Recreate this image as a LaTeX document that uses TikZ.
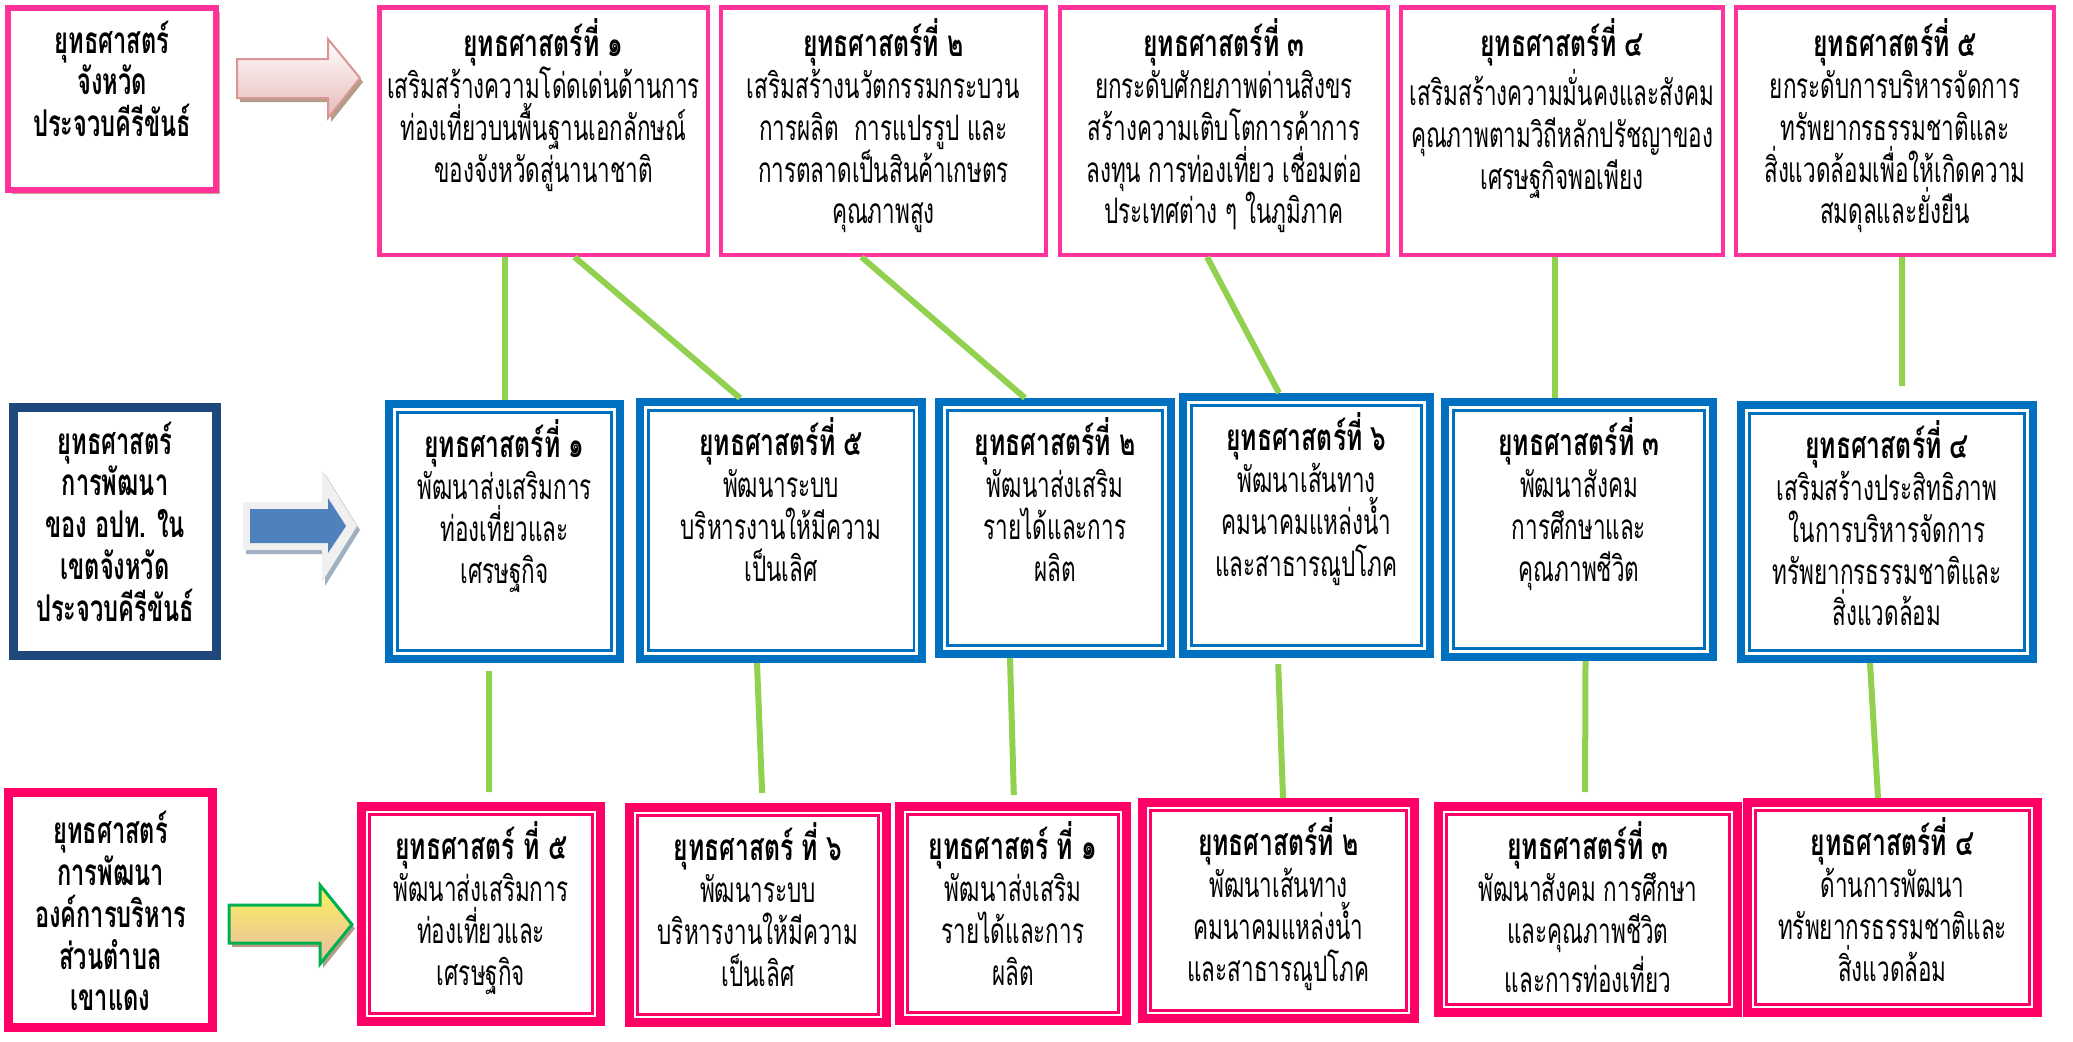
\documentclass[tikz,border=0pt]{standalone}
\usepackage{fontspec}
\newfontfamily\thaifont[Script=Thai, FakeStretch=0.64]{Loma}
\newfontfamily\thaititle[Script=Thai, FakeStretch=0.67]{Loma}
\usetikzlibrary{positioning, shadows}
\definecolor{provpink}{HTML}{FF3399}
\definecolor{labelblue}{HTML}{1F497D}
\definecolor{midblue}{HTML}{0070C0}
\definecolor{botred}{HTML}{FF0066}
\definecolor{linkgreen}{HTML}{92D050}
\definecolor{arrowpink}{HTML}{E6B9B8}
\definecolor{arrowpinkline}{HTML}{D99694}
\definecolor{arrowblue}{HTML}{4F81BD}
\definecolor{arrowglow}{HTML}{F0F0F0}
\definecolor{arrowyellow}{HTML}{FBF25A}
\definecolor{arrowpeach}{HTML}{E8BCA8}
\definecolor{arrowgreen}{HTML}{00B050}
\definecolor{shadowtan}{HTML}{C9A98C}
\definecolor{shadowgrey}{HTML}{9FB0C0}
\definecolor{shadowmauve}{HTML}{A99AA8}
\newcommand{\stitle}[1]{{\thaititle\bfseries\fontsize{10.5}{11.9}\selectfont #1}}

\begin{document}
\begin{tikzpicture}[
    provbox/.style={rectangle, draw=provpink, line width=0.045cm, fill=white, inner sep=0pt},
    labelbox/.style={rectangle, line width=0.09cm, fill=white, inner sep=0pt},
    midbox/.style={rectangle, draw=midblue, line width=0.08cm, fill=white, inner sep=0pt,
        path picture={\draw[midblue, line width=0.025cm]
            ([shift={(0.085cm,-0.085cm)}]path picture bounding box.north west) rectangle
            ([shift={(-0.085cm,0.085cm)}]path picture bounding box.south east);}},
    botbox/.style={rectangle, draw=botred, line width=0.09cm, fill=white, inner sep=0pt,
        path picture={\draw[botred, line width=0.025cm]
            ([shift={(0.08cm,-0.08cm)}]path picture bounding box.north west) rectangle
            ([shift={(-0.08cm,0.08cm)}]path picture bounding box.south east);}},
    boxdim/.style 2 args={minimum width=#1cm, minimum height=#2cm},
    boxtext/.style={inner sep=0pt, align=center, font=\thaifont\fontsize{10}{11.9}\selectfont},
    headtext/.style={inner sep=0pt, align=center, font=\thaifont\bfseries\fontsize{10.5}{11.9}\selectfont},
    link/.style={draw=linkgreen, line width=0.06cm}
]
    \useasboundingbox (0,0) rectangle (20.73,-10.41);

    % Jangwat row
    \node[labelbox, draw=provpink, line width=0.06cm, boxdim={2.07}{1.82},
          drop shadow={shadow xshift=0.04cm, shadow yshift=-0.04cm, fill=shadowtan, opacity=1}]
          (prov) at (1.12,-0.99) {};
    \node[headtext, below=0.15cm of prov.north] (provtxt) {ยุทธศาสตร์\\จังหวัด\\ประจวบคีรีขันธ์};

    \fill[shadowtan!70!gray, xshift=0.03cm, yshift=-0.04cm] (2.37,-0.59) -- (3.28,-0.59) -- (3.28,-0.39) -- (3.60,-0.78) -- (3.28,-1.18) -- (3.28,-0.98) -- (2.37,-0.98) -- cycle;
    \draw[arrowpinkline, line width=0.02cm, top color=white, bottom color=arrowpink]
        (2.37,-0.59) -- (3.28,-0.59) -- (3.28,-0.39) -- (3.60,-0.78) -- (3.28,-1.18) -- (3.28,-0.98) -- (2.37,-0.98) -- cycle;

    \node[provbox, boxdim={3.285}{2.475}] (top1) at (5.435,-1.31) {};
    \node[provbox, boxdim={3.25}{2.475}] (top2) at (8.835,-1.31) {};
    \node[provbox, boxdim={3.28}{2.475}] (top3) at (12.24,-1.31) {};
    \node[provbox, boxdim={3.22}{2.475}] (top4) at (15.62,-1.31) {};
    \node[provbox, boxdim={3.18}{2.475}] (top5) at (18.95,-1.31) {};

    \node[boxtext, below=0.13cm of top1.north] (top1txt) {\stitle{ยุทธศาสตร์ที่ ๑}\\เสริมสร้างความโด่ดเด่นด้านการ\\ท่องเที่ยวบนพื้นฐานเอกลักษณ์\\ของจังหวัดสู่นานาชาติ};
    \node[boxtext, below=0.13cm of top2.north] (top2txt) {\stitle{ยุทธศาสตร์ที่ ๒}\\เสริมสร้างนวัตกรรมกระบวน\\การผลิต~~การแปรรูป และ\\การตลาดเป็นสินค้าเกษตร\\คุณภาพสูง};
    \node[boxtext, below=0.13cm of top3.north] (top3txt) {\stitle{ยุทธศาสตร์ที่ ๓}\\ยกระดับศักยภาพด่านสิงขร\\สร้างความเติบโตการค้าการ\\ลงทุน การท่องเที่ยว เชื่อมต่อ\\ประเทศต่าง ๆ ในภูมิภาค};
    \node[boxtext, below=0.13cm of top4.north] (top4txt) {\stitle{ยุทธศาสตร์ที่ ๔}\\เสริมสร้างความมั่นคงและสังคม\\คุณภาพตามวิถีหลักปรัชญาของ\\เศรษฐกิจพอเพียง};
    \node[boxtext, below=0.13cm of top5.north] (top5txt) {\stitle{ยุทธศาสตร์ที่ ๕}\\ยกระดับการบริหารจัดการ\\ทรัพยากรธรรมชาติและ\\สิ่งแวดล้อมเพื่อให้เกิดความ\\สมดุลและยั่งยืน};

    % Local government row
    \node[labelbox, draw=labelblue, boxdim={2.03}{2.48},
          drop shadow={shadow xshift=0.04cm, shadow yshift=-0.04cm, fill=shadowgrey, opacity=1}]
          (opt) at (1.15,-5.315) {};
    \node[headtext, below=0.18cm of opt.north] (opttxt) {ยุทธศาสตร์\\การพัฒนา\\ของ อปท. ใน\\เขตจังหวัด\\ประจวบคีรีขันธ์};

    \fill[shadowgrey, xshift=0.03cm, yshift=-0.04cm] (2.43,-5.02) -- (3.22,-5.02) -- (3.22,-4.70) -- (3.57,-5.26) -- (3.22,-5.82) -- (3.22,-5.50) -- (2.43,-5.50) -- cycle;
    \fill[arrowglow] (2.43,-5.02) -- (3.22,-5.02) -- (3.22,-4.70) -- (3.57,-5.26) -- (3.22,-5.82) -- (3.22,-5.50) -- (2.43,-5.50) -- cycle;
    \fill[arrowblue] (2.50,-5.09) -- (3.28,-5.09) -- (3.28,-4.98) -- (3.46,-5.26) -- (3.28,-5.53) -- (3.28,-5.43) -- (2.50,-5.43) -- cycle;

    \node[midbox, boxdim={2.31}{2.55}] (mid1) at (5.045,-5.315) {};
    \node[midbox, boxdim={2.825}{2.57}] (mid2) at (7.81,-5.305) {};
    \node[midbox, boxdim={2.32}{2.52}] (mid3) at (10.55,-5.28) {};
    \node[midbox, boxdim={2.47}{2.57}] (mid4) at (13.065,-5.255) {};
    \node[midbox, boxdim={2.68}{2.55}] (mid5) at (15.79,-5.295) {};
    \node[midbox, boxdim={2.92}{2.54}] (mid6) at (18.87,-5.32) {};

    \node[boxtext, below=0.19cm of mid1.north] (mid1txt) {\stitle{ยุทธศาสตร์ที่ ๑}\\พัฒนาส่งเสริมการ\\ท่องเที่ยวและ\\เศรษฐกิจ};
    \node[boxtext, below=0.19cm of mid2.north] (mid2txt) {\stitle{ยุทธศาสตร์ที่ ๕}\\พัฒนาระบบ\\บริหารงานให้มีความ\\เป็นเลิศ};
    \node[boxtext, below=0.19cm of mid3.north] (mid3txt) {\stitle{ยุทธศาสตร์ที่ ๒}\\พัฒนาส่งเสริม\\รายได้และการ\\ผลิต};
    \node[boxtext, below=0.19cm of mid4.north] (mid4txt) {\stitle{ยุทธศาสตร์ที่ ๖}\\พัฒนาเส้นทาง\\คมนาคมแหล่งน้ำ\\และสาธารณูปโภค};
    \node[boxtext, below=0.19cm of mid5.north] (mid5txt) {\stitle{ยุทธศาสตร์ที่ ๓}\\พัฒนาสังคม\\การศึกษาและ\\คุณภาพชีวิต};
    \node[boxtext, below=0.19cm of mid6.north] (mid6txt) {\stitle{ยุทธศาสตร์ที่ ๔}\\เสริมสร้างประสิทธิภาพ\\ในการบริหารจัดการ\\ทรัพยากรธรรมชาติและ\\สิ่งแวดล้อม};

    % Khao Daeng row
    \node[labelbox, draw=botred, boxdim={2.03}{2.35},
          drop shadow={shadow xshift=0.04cm, shadow yshift=-0.04cm, fill=shadowmauve, opacity=1}]
          (tao) at (1.105,-9.10) {};
    \node[headtext, below=0.225cm of tao.north] (taotxt) {ยุทธศาสตร์\\การพัฒนา\\องค์การบริหาร\\ส่วนตำบล\\เขาแดง};

    \fill[shadowtan!70!gray, xshift=0.03cm, yshift=-0.04cm] (2.29,-9.05) -- (3.20,-9.05) -- (3.20,-8.85) -- (3.52,-9.245) -- (3.20,-9.64) -- (3.20,-9.43) -- (2.29,-9.43) -- cycle;
    \draw[arrowgreen, line width=0.03cm, top color=arrowyellow, bottom color=arrowpeach]
        (2.29,-9.05) -- (3.20,-9.05) -- (3.20,-8.85) -- (3.52,-9.245) -- (3.20,-9.64) -- (3.20,-9.43) -- (2.29,-9.43) -- cycle;

    \node[botbox, boxdim={2.39}{2.15}] (bot1) at (4.81,-9.14) {};
    \node[botbox, boxdim={2.57}{2.15}] (bot2) at (7.58,-9.15) {};
    \node[botbox, boxdim={2.27}{2.14}] (bot3) at (10.13,-9.135) {};
    \node[botbox, boxdim={2.72}{2.16}] (bot4) at (12.785,-9.105) {};
    \node[botbox, boxdim={2.99}{2.06}] (bot5) at (15.88,-9.095) {};
    \node[botbox, boxdim={2.90}{2.10}] (bot6) at (18.925,-9.075) {};

    \node[boxtext, below=0.19cm of bot1.north] (bot1txt) {\stitle{ยุทธศาสตร์ ที่ ๕}\\พัฒนาส่งเสริมการ\\ท่องเที่ยวและ\\เศรษฐกิจ};
    \node[boxtext, below=0.19cm of bot2.north] (bot2txt) {\stitle{ยุทธศาสตร์ ที่ ๖}\\พัฒนาระบบ\\บริหารงานให้มีความ\\เป็นเลิศ};
    \node[boxtext, below=0.19cm of bot3.north] (bot3txt) {\stitle{ยุทธศาสตร์ ที่ ๑}\\พัฒนาส่งเสริม\\รายได้และการ\\ผลิต};
    \node[boxtext, below=0.19cm of bot4.north] (bot4txt) {\stitle{ยุทธศาสตร์ที่ ๒}\\พัฒนาเส้นทาง\\คมนาคมแหล่งน้ำ\\และสาธารณูปโภค};
    \node[boxtext, below=0.19cm of bot5.north] (bot5txt) {\stitle{ยุทธศาสตร์ที่ ๓}\\พัฒนาสังคม การศึกษา\\และคุณภาพชีวิต\\และการท่องเที่ยว};
    \node[boxtext, below=0.19cm of bot6.north] (bot6txt) {\stitle{ยุทธศาสตร์ที่ ๔}\\ด้านการพัฒนา\\ทรัพยากรธรรมชาติและ\\สิ่งแวดล้อม};

    % Links top -> middle
    \draw[link] (mid1.north) -- (mid1.north |- top1.south);
    \draw[link] ([xshift=0.31cm]top1.south) -- ([xshift=-0.41cm]mid2.north);
    \draw[link] ([xshift=-0.22cm]top2.south) -- ([xshift=-0.30cm]mid3.north);
    \draw[link] ([xshift=-0.17cm]top3.south) -- ([xshift=-0.275cm]mid4.north);
    \draw[link] ([xshift=-0.24cm]mid5.north) -- ([xshift=-0.24cm]mid5.north |- top4.south);
    \draw[link, shorten >=0.15cm] ([xshift=0.07cm]top5.south) -- ([xshift=0.15cm]mid6.north);

    % Links middle -> bottom
    \draw[link, shorten <=0.08cm, shorten >=0.1cm] ([xshift=-0.155cm]mid1.south) -- ([xshift=0.08cm]bot1.north);
    \draw[link, shorten >=0.1cm] ([xshift=-0.24cm]mid2.south) -- ([xshift=0.045cm]bot2.north);
    \draw[link, shorten >=0.07cm] ([xshift=-0.45cm]mid3.south) -- ([xshift=0.01cm]bot3.north);
    \draw[link, shorten <=0.06cm] ([xshift=-0.285cm]mid4.south) -- ([xshift=0.045cm]bot4.north);
    \draw[link, shorten >=0.1cm] ([xshift=0.065cm]mid5.south) -- ([xshift=-0.03cm]bot5.north);
    \draw[link] ([xshift=-0.17cm]mid6.south) -- ([xshift=-0.145cm]bot6.north);
\end{tikzpicture}
\end{document}
